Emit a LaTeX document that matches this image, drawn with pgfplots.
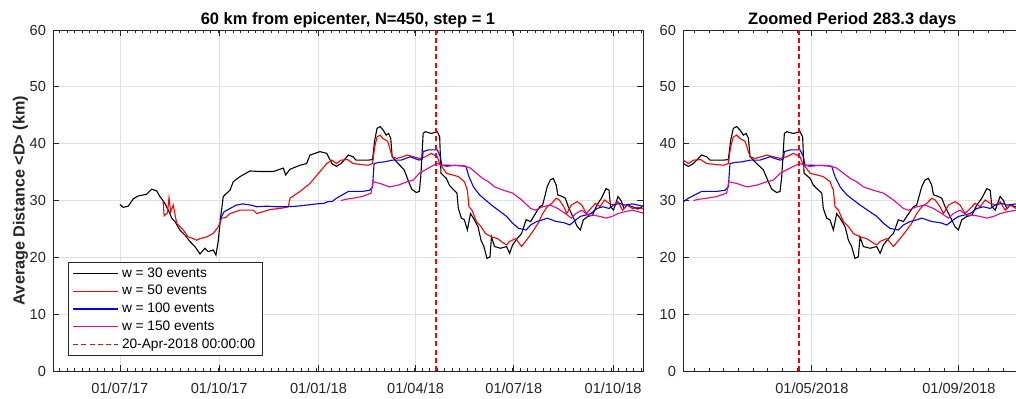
\documentclass[border=0pt]{standalone}
\usepackage{pgfplots}
\pgfplotsset{compat=1.18}
\usepackage{pgfplotstable}
\usepackage{fontspec}
\setmainfont{Liberation Sans}

\pgfplotstableread{
d v
-184 29.3
-180.9 28.8
-176.3 29.0
-171.6 30.3
-167 30.8
-159.2 31.1
-154.6 32.0
-150 31.7
-146.9 30.7
-142.3 29.5
-137.6 27.7
-136.1 26.9
-133 26.3
-128.4 24.8
-123.7 23.9
-119.1 22.8
-114.5 21.9
-109.8 20.6
-105.2 21.6
-102.1 21.0
-97.5 21.3
-95 20.4
-92.8 23.0
-90.6 27.2
-88.2 30.7
-86.7 31.0
-82 31.8
-79 33.3
-72.8 34.2
-63.5 35.2
-54.2 35.1
-41.9 35.1
-32.6 35.7
-30.4 34.5
-26.4 35.5
-17.1 36.2
-11 36.5
-7.9 38.0
1.4 38.6
7.6 38.3
12.5 36.5
16.7 36.0
20.9 36.5
25.0 37.4
27.8 38.0
32.0 37.7
34.8 37.1
45.9 37.1
50.1 37.2
52.1 40.6
54.3 42.7
57.1 43.0
59.9 42.4
62.7 41.5
64.9 41.8
66.9 41.0
68.3 37.7
71.1 37.1
73.8 36.5
79.4 35.4
83.6 33.3
86.4 32.0
90.6 31.4
93.4 31.6
94.8 34.2
97.0 41.8
99.0 42.1
104.5 41.8
110.1 42.1
112.3 41.2
113.5 34.8
118.5 33.9
121.3 32.7
124.1 32.1
128.3 31.3
129.6 28.6
132.4 26.9
135.2 26.6
138.0 24.8
140.8 27.7
143.6 26.9
147.8 25.4
150.6 23.0
153.3 21.9
156.1 19.8
158.9 20.1
160.3 23.6
163.1 21.9
168.7 21.6
174.3 21.9
177.1 20.7
179.9 22.2
184.1 23.3
188.2 24.2
192.4 26.6
196.6 26.3
199.4 27.2
205.0 28.9
207.7 29.2
211.9 32.4
214.7 33.6
217.5 33.9
220.3 32.7
221.7 31.0
225.9 30.7
228.7 30.4
231.5 28.9
235.6 27.2
239.8 25.4
242.6 24.8
245.4 26.6
249.6 27.2
253.8 27.4
258.0 29.2
262.2 30.4
266.4 32.1
269.2 31.8
270.6 28.9
273.4 28.3
277.5 30.7
280.3 30.0
283.1 28.6
285.9 29.2
290.9 28.9
296 28.5
300.7 29.0
}\wthirty

\pgfplotstableread{
d v
-144 30.0
-143 27.3
-140 27.8
-138.5 30.5
-137 28.0
-134.6 29.2
-131.4 26.0
-125.3 24.8
-120.7 23.6
-116 23.3
-112.9 23.0
-109.8 23.3
-103.6 23.6
-97.5 24.2
-92.8 25.4
-89.7 26.9
-86 27.0
-82 27.7
-72.8 28.3
-60.4 28.3
-57.3 27.7
-45 28.4
-32.6 28.7
-28 28.9
-26.4 30.4
-17.1 31.6
-7.9 33.0
1.4 35.1
7.6 36.5
12.5 37.1
16.7 36.5
20.9 37.1
27 37.2
32 36.5
45.9 36.2
50.1 36.5
52.1 39.5
54.3 41.2
57.1 41.5
59.9 40.9
64.2 40.4
66.9 38.6
68.3 37.7
72.4 37.4
78 37.7
82.2 38.0
87.8 37.7
93.4 37.4
99 37.7
104.5 38.3
110.1 37.7
112.3 36.5
114.3 36.0
118.5 34.8
124.1 34.5
129.6 34.2
135.2 33.3
138 31.8
139.4 28.9
142.2 28.3
146.4 26.3
150.6 25.4
154.7 24.2
160.3 23.6
165.9 23.3
171.5 22.5
174.3 22.2
177.1 22.8
182.7 23.3
188.2 21.9
193.8 23.3
199.4 24.8
203.5 26.0
207.7 27.7
211.9 28.9
216.1 29.5
220.3 30.4
223.1 30.1
227.3 28.9
230.1 27.7
234.3 29.2
239.8 29.8
244.0 29.2
248.2 27.7
252.4 28.6
256.6 29.5
260.8 28.9
265.0 30.1
269.2 29.5
273.4 29.2
277.5 29.8
281.7 28.3
285.9 29.2
290.9 28.6
296 28.8
300.7 28.5
}\wfifty

\pgfplotstableread{
d v
-91.3 26.6
-89 27.5
-87.6 28.0
-82 28.6
-76 29.2
-70 29.4
-63 29.2
-57 28.9
-48 29.0
-38.7 28.9
-29 28.9
-20 29.0
-11 29.2
-2 29.4
5 29.5
9 29.8
12.5 29.8
16.7 30.4
22.2 31.0
27.8 31.6
33.4 31.6
40.4 31.6
47.3 31.8
50.1 32.4
51.5 36.5
55.7 36.7
61.3 36.8
68.3 37.1
76.6 37.1
85 37.7
93.4 37.1
96.2 37.3
97 38.6
101.8 38.9
110.1 38.9
112.9 37.7
114.3 36.2
121.3 36.2
132.4 36.1
136.6 36.0
139.4 34.2
143.6 32.4
149.2 31.0
154.7 30.1
160.3 29.2
168.7 28.0
174.3 27.2
179.9 26.0
185.4 25.1
192.4 24.8
196.6 25.7
202.2 26.3
207.7 26.6
211.9 26.9
216.1 26.6
220.3 26.3
227.3 26.1
232.9 25.7
238.4 26.6
242.6 27.2
246.8 27.4
252.4 27.7
258.0 28.6
263.6 28.9
269.2 28.6
273.4 29.2
279.0 29.5
283.1 29.2
290.9 29.4
300.7 29.0
}\whundred

\pgfplotstableread{
d v
21 30.0
25.0 30.2
32.0 30.4
40.4 30.7
48.7 31.3
50.5 33.3
57.1 33.0
65.5 32.4
73.8 32.7
82.2 33.3
87.8 33.6
93.4 34.8
99.0 35.4
104.5 36.0
110.1 36.5
112.9 36.3
118.5 36.0
126.9 36.2
135.2 36.1
140.8 35.7
146.4 34.8
152.0 33.9
157.5 33.3
163.1 32.4
171.5 31.8
179.9 31.3
188.2 30.1
196.6 28.6
200.8 28.3
207.7 28.9
214.7 29.2
221.7 28.6
228.7 27.7
234.3 26.9
238.4 27.7
244.0 28.3
249.6 27.4
255.2 27.4
260.8 27.2
266.4 26.9
272.0 27.2
277.5 27.7
283.1 28.0
290.9 28.3
300.7 27.8
}\wonefifty

\pgfplotstableread{
d v
109 0
109 60
}\eventline

\definecolor{axgray}{gray}{0.15}
\definecolor{gridgray}{gray}{0.88}

\pgfplotsset{
  panel/.style={
    scale only axis,
    height=170.5pt,
    ymin=0, ymax=60,
    ytick={0,10,...,60},
    grid=major,
    major grid style={gridgray, line width=0.4pt},
    axis line style={axgray, line width=0.4pt},
    tick style={axgray, line width=0.4pt},
    tick align=inside,
    major tick length=3pt,
    minor tick length=1.6pt,
    xtick pos=both, ytick pos=both,
    /pgf/number format/assume math mode=true,
    ticklabel style={font=\fontsize{7.3}{8}\selectfont, text=axgray},
    xticklabel style={yshift=-2.5pt},
    title style={font=\bfseries\fontsize{8.25}{9}\selectfont, at={(0.5,1)}, anchor=base, yshift=-3pt},
    clip=true,
  },
}

\begin{document}
\begin{tikzpicture}
\useasboundingbox (-26.5pt,-13.5pt) rectangle (481.5pt,185.5pt);
\begin{axis}[panel,
  at={(0pt,0pt)}, anchor=south west,
  width=295pt,
  xmin=-246, xmax=300.7,
  xtick={-184,-92,0,90,181,273},
  xticklabels={01/07/17,01/10/17,01/01/18,01/04/18,01/07/18,01/10/18},
  minor xtick={-240,-233,...,300},
  title={60 km from epicenter, N=450, step = 1},
  ylabel={Average Distance <D> (km)},
  ylabel style={font=\bfseries\fontsize{8.1}{9}\selectfont, text=axgray},
  ylabel shift=-6pt,
  legend cell align=left,
  legend image code/.code={\draw[#1] (0pt,0pt) -- (22.5pt,0pt);},
  legend style={at={(0,0)}, anchor=south west, xshift=7.5pt, yshift=7.5pt,
    draw=axgray, line width=0.4pt, fill=white,
    font=\fontsize{6.85}{7.5}\selectfont,
    inner xsep=2pt, inner ysep=1.5pt, row sep=0.9pt,
    nodes={inner xsep=1.5pt, inner ysep=0.8pt, text height=5pt, text depth=1.4pt}},
]
\addplot[color=black, line width=0.55pt] table[x=d,y=v]{\wthirty};
\addlegendentry{w = 30 events}
\addplot[color=red, line width=0.55pt] table[x=d,y=v]{\wfifty};
\addlegendentry{w = 50 events}
\addplot[color=blue, line width=0.55pt] table[x=d,y=v]{\whundred};
\addlegendentry{w = 100 events}
\addplot[color=magenta, line width=0.55pt] table[x=d,y=v]{\wonefifty};
\addlegendentry{w = 150 events}
\addplot[color=red, line width=0.8pt, dash pattern=on 2.5pt off 1.6pt] table[x=d,y=v]{\eventline};
\addlegendentry{20-Apr-2018 00:00:00}
\end{axis}

\begin{axis}[panel,
  at={(315pt,0pt)}, anchor=south west,
  width=169.3pt,
  xmin=12.2, xmax=295.5,
  xtick={120,243},
  xticklabels={01/05/2018,01/09/2018},
  minor xtick={21.6,33.9,...,295},
  title={Zoomed Period 283.3 days},
]
\addplot[color=black, line width=0.55pt] table[x=d,y=v]{\wthirty};
\addplot[color=red, line width=0.55pt] table[x=d,y=v]{\wfifty};
\addplot[color=blue, line width=0.55pt] table[x=d,y=v]{\whundred};
\addplot[color=magenta, line width=0.55pt] table[x=d,y=v]{\wonefifty};
\addplot[color=red, line width=0.8pt, dash pattern=on 2.5pt off 1.6pt] table[x=d,y=v]{\eventline};
\end{axis}
\end{tikzpicture}
\end{document}
